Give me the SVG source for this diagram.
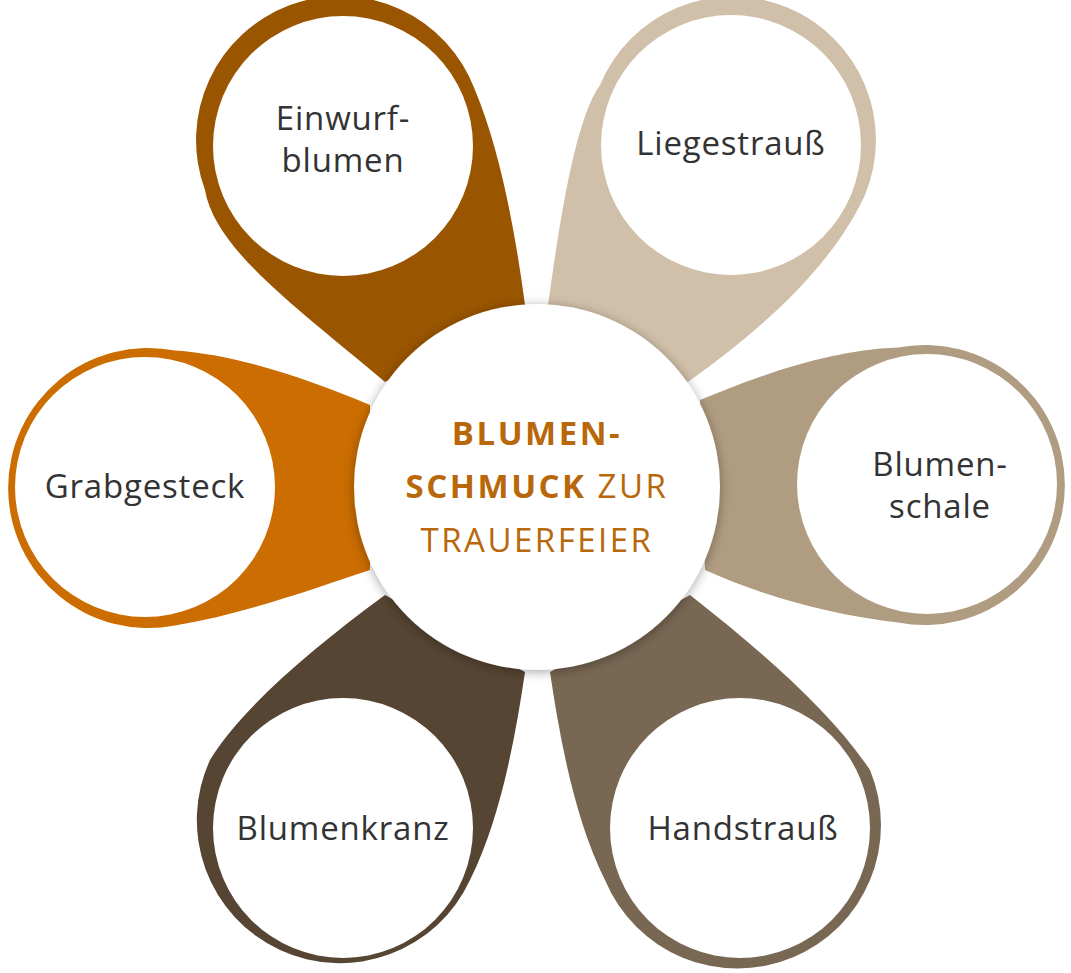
<svg xmlns="http://www.w3.org/2000/svg" width="1071" height="973" viewBox="0 0 1071 973">
<defs>
<style>
.w{fill:#fff}
.t{font-family:"Open Sans",Lato,sans-serif;font-size:33px;letter-spacing:0.8px;fill:#333;text-anchor:middle}
.c{font-family:"Open Sans",Lato,sans-serif;font-size:33px;letter-spacing:2.5px;fill:#b8680a;text-anchor:middle}
</style>
<filter id="sh" x="-20%" y="-20%" width="140%" height="140%"><feGaussianBlur in="SourceAlpha" stdDeviation="6"/><feOffset dy="2"/><feComponentTransfer><feFuncA type="linear" slope="0.35"/></feComponentTransfer><feMerge><feMergeNode/><feMergeNode in="SourceGraphic"/></feMerge></filter>
</defs>
<rect width="1071" height="973" fill="#fff"/>
<g id="connectors">
<path fill="#9a5500" d="M385,382 C300,310 215,250 205,190 A140 140 0 0 1 475,90 C500,150 515,230 525,305 Z"/>
<path fill="#d0bfa9" d="M548,305 C560,220 575,120 600,85 A140 140 0 0 1 865,195 C830,270 760,330 688,382 Z"/>
<path fill="#b09c80" d="M700,400 C760,375 830,350 898,347.6 A140 140 0 1 1 898,622.4 C830,615 760,595 705,570 Z"/>
<path fill="#cb6d00" d="M370,405 C310,380 240,355 175,350.6 A140 140 0 1 0 175,625.4 C240,615 310,590 370,570 Z"/>
<path fill="#574533" d="M385,595 C310,650 240,710 210,760 A140 140 0 1 0 470,880 C500,820 515,740 525,672 Z"/>
<path fill="#786753" d="M690,595 C760,650 830,710 870,770 A140 140 0 1 1 605,880 C575,820 560,740 550,672 Z"/>
</g>
<g id="einwurf"><circle class="w" cx="343" cy="146" r="130"/><text class="t" x="343" y="130">Einwurf-</text><text class="t" x="343" y="172">blumen</text></g>
<g id="liegestrauss"><circle class="w" cx="731" cy="145" r="130"/><text class="t" x="731" y="155">Liegestrauß</text></g>
<g id="blumenschale"><circle class="w" cx="927" cy="484" r="130"/><text class="t" x="940" y="476">Blumen-</text><text class="t" x="940" y="518">schale</text></g>
<g id="grabgesteck"><circle class="w" cx="145" cy="487" r="130"/><text class="t" x="145" y="498">Grabgesteck</text></g>
<g id="blumenkranz"><circle class="w" cx="343" cy="828" r="130"/><text class="t" x="343" y="840">Blumenkranz</text></g>
<g id="handstrauss"><circle class="w" cx="740" cy="828" r="130"/><text class="t" x="743" y="840">Handstrauß</text></g>
<g id="center"><circle class="w" cx="537" cy="487" r="183" filter="url(#sh)"/>
<text class="c" x="537" y="445" font-weight="bold">BLUMEN-</text>
<text class="c" x="537" y="498"><tspan font-weight="bold">SCHMUCK</tspan> ZUR</text>
<text class="c" x="537" y="552">TRAUERFEIER</text></g>
</svg>
